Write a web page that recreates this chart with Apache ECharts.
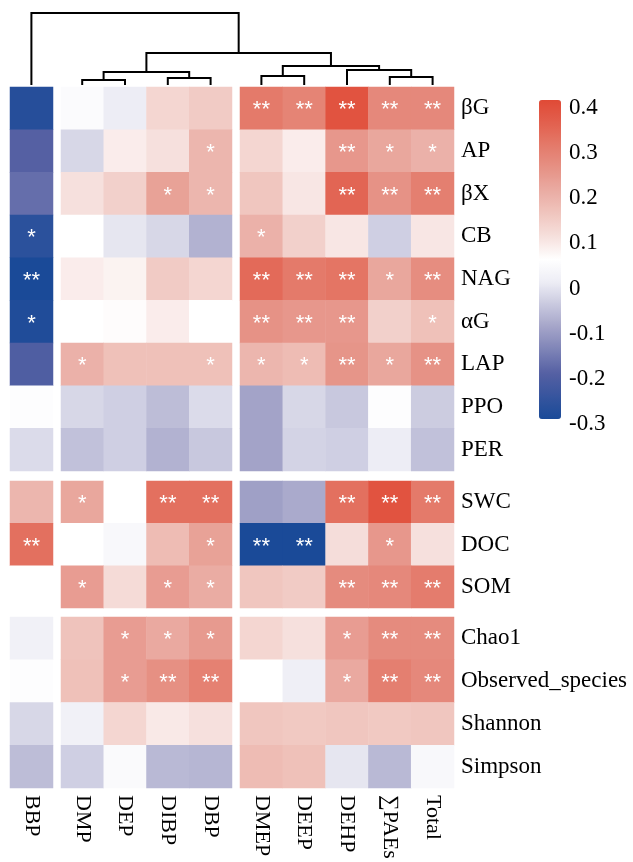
<!DOCTYPE html>
<html><head><meta charset="utf-8">
<script src="https://cdn.jsdelivr.net/npm/echarts@6/dist/echarts.min.js"></script>
<style>html,body{margin:0;padding:0;background:#fff}#c{width:633px;height:862px}</style>
</head><body><div id="c"></div>
<script>
// ---- data ----
const columns = ['BBP','DMP','DEP','DIBP','DBP','DMEP','DEEP','DEHP','\u2211PAEs','Total'];
const rows = ['\u03b2G','AP','\u03b2X','CB','NAG','\u03b1G','LAP','PPO','PER','SWC','DOC','SOM','Chao1','Observed_species','Shannon','Simpson'];
const colGroupSizes = [1, 4, 5];
const rowGroupSizes = [9, 3, 4];

// correlation coefficients, one row per variable (columns order as above)
const corr = [
  [-0.28, 0.04, 0.00, 0.12, 0.14, 0.30, 0.28, 0.38, 0.27, 0.27],   // βG
  [-0.20,-0.03, 0.08, 0.10, 0.18, 0.12, 0.08, 0.24, 0.21, 0.19],   // AP
  [-0.18, 0.10, 0.13, 0.22, 0.18, 0.15, 0.09, 0.34, 0.25, 0.29],   // βX
  [-0.27, 0.05,-0.01,-0.03,-0.08, 0.19, 0.13, 0.09,-0.04, 0.09],   // CB
  [-0.30, 0.08, 0.07, 0.14, 0.12, 0.33, 0.30, 0.31, 0.21, 0.26],   // NAG
  [-0.29, 0.05, 0.055,0.08, 0.05, 0.25, 0.24, 0.24, 0.13, 0.16],   // αG
  [-0.21, 0.19, 0.16, 0.16, 0.16, 0.18, 0.17, 0.245,0.21, 0.25],   // LAP
  [ 0.045,-0.03,-0.04,-0.065,-0.025,-0.10,-0.03,-0.05, 0.045,-0.045], // PPO
  [-0.025,-0.06,-0.04,-0.08,-0.05,-0.10,-0.035,-0.04, 0.00,-0.06], // PER
  [ 0.18, 0.21, 0.05, 0.32, 0.32,-0.105,-0.09, 0.32, 0.38, 0.30],  // SWC
  [ 0.32, 0.05, 0.03, 0.17, 0.22,-0.30,-0.30, 0.105,0.24, 0.10],   // DOC
  [ 0.05, 0.23, 0.11, 0.23, 0.20, 0.15, 0.14, 0.265,0.27, 0.295],  // SOM
  [ 0.01, 0.155,0.23, 0.205,0.235,0.12, 0.10, 0.23, 0.265,0.265],  // Chao1
  [ 0.045,0.16, 0.23, 0.255,0.285,0.05, 0.005,0.205,0.29, 0.27],   // Observed_species
  [-0.03, 0.01, 0.12, 0.085,0.10, 0.15, 0.145,0.15, 0.145,0.15],   // Shannon
  [-0.065,-0.04,0.035,-0.07,-0.075,0.17, 0.16,-0.01,-0.07, 0.03]   // Simpson
];
const sig = [
  ['',  '',  '',  '',  '',  '**','**','**','**','**'],
  ['',  '',  '',  '',  '*', '',  '',  '**','*', '*' ],
  ['',  '',  '',  '*', '*', '',  '',  '**','**','**'],
  ['*', '',  '',  '',  '',  '*', '',  '',  '',  ''  ],
  ['**','',  '',  '',  '',  '**','**','**','*', '**'],
  ['*', '',  '',  '',  '',  '**','**','**','',  '*' ],
  ['',  '*', '',  '',  '*', '*', '*', '**','*', '**'],
  ['',  '',  '',  '',  '',  '',  '',  '',  '',  ''  ],
  ['',  '',  '',  '',  '',  '',  '',  '',  '',  ''  ],
  ['',  '*', '',  '**','**','',  '',  '**','**','**'],
  ['**','',  '',  '',  '*', '**','**','',  '*', ''  ],
  ['',  '*', '',  '*', '*', '',  '',  '**','**','**'],
  ['',  '',  '*', '*', '*', '',  '',  '*', '**','**'],
  ['',  '',  '*', '**','**','',  '',  '*', '**','**'],
  ['',  '',  '',  '',  '',  '',  '',  '',  '',  ''  ],
  ['',  '',  '',  '',  '',  '',  '',  '',  '',  ''  ]
];
const legendTicks = [0.4, 0.3, 0.2, 0.1, 0, -0.1, -0.2, -0.3];

// column dendrogram: [left child, right child, merge height]; child = leaf name or merge index
const dendroMerges = [
  ['DMP', 'DEP', 5],
  ['DIBP', 'DBP', 7],
  [0, 1, 13],
  ['DMEP', 'DEEP', 9],
  ['\u2211PAEs', 'Total', 8],
  ['DEHP', 4, 15],
  [3, 5, 19],
  [2, 6, 32],
  ['BBP', 7, 72]
];

// ---- layout ----
const SERIF = 'Liberation Serif';
const colGrid = [{left: 10, width: 43}, {left: 61, width: 171}, {left: 240, width: 214}];
const rowGrid = [{top: 87, height: 384}, {top: 481, height: 127}, {top: 617, height: 171}];
const cellW = 42.8, colGap = 8;
const colorStops = ['#1A4A98','#37559E','#5560A3','#7C82B6','#A3A3C8','#C8C8DE','#EDEDF5','#FFFFFF',
                    '#F6E0DD','#F0C6BF','#EAACA3','#E69286','#E47A6A','#E2604E','#E04A36'];

const grid = [], xAxis = [], yAxis = [], series = [];
let rowStart = 0;
rowGroupSizes.forEach((rs, gi) => {
  let colStart = 0;
  colGroupSizes.forEach((cs, gj) => {
    const k = grid.length;
    grid.push({left: colGrid[gj].left, width: colGrid[gj].width, top: rowGrid[gi].top, height: rowGrid[gi].height, containLabel: false});
    xAxis.push({
      type: 'category', gridIndex: k, data: columns.slice(colStart, colStart + cs), position: 'bottom',
      axisLine: {show: false}, axisTick: {show: false}, splitLine: {show: false},
      axisLabel: {show: gi === rowGroupSizes.length - 1, rotate: -90, margin: 7, interval: 0,
                  fontFamily: SERIF, fontSize: 22, color: '#000'}
    });
    yAxis.push({
      type: 'category', gridIndex: k, data: rows.slice(rowStart, rowStart + rs), inverse: true, position: 'right',
      axisLine: {show: false}, axisTick: {show: false}, splitLine: {show: false},
      axisLabel: {show: gj === colGroupSizes.length - 1, margin: 7, interval: 0,
                  fontFamily: SERIF, fontSize: 23, color: '#000'}
    });
    const data = [];
    for (let r = 0; r < rs; r++) {
      for (let c = 0; c < cs; c++) {
        data.push([c, r, corr[rowStart + r][colStart + c], sig[rowStart + r][colStart + c]]);
      }
    }
    series.push({
      type: 'heatmap', xAxisIndex: k, yAxisIndex: k, data: data,
      itemStyle: {borderWidth: 0},
      label: {show: true, formatter: p => p.data[3], color: '#fff', fontFamily: 'Liberation Sans',
              fontSize: 22, offset: [0, 2]},
      emphasis: {disabled: true}
    });
    colStart += cs;
  });
  rowStart += rs;
});
const nHeat = series.length;

// legend label axis (grid)
const legIdx = grid.length;
grid.push({left: 539, width: 22, top: 108, height: 316});
xAxis.push({type: 'value', gridIndex: legIdx, show: false, min: 0, max: 1});
yAxis.push({
  type: 'value', gridIndex: legIdx, min: legendTicks[legendTicks.length - 1], max: legendTicks[0], interval: 0.1,
  position: 'right', axisLine: {show: false}, axisTick: {show: false}, splitLine: {show: false},
  axisLabel: {margin: 8, fontFamily: SERIF, fontSize: 23, color: '#000',
              formatter: v => String(Math.round(v * 10) / 10)}
});

// dendrogram grid
const denIdx = grid.length;
const gapUnits = colGap / cellW;
grid.push({left: 10, width: 444, top: 13, height: 72});
xAxis.push({type: 'value', gridIndex: denIdx, show: false, min: 0, max: columns.length + (colGroupSizes.length - 1) * gapUnits});
yAxis.push({type: 'value', gridIndex: denIdx, show: false, min: 0, max: 72});

function leafX(name) {
  const i = columns.indexOf(name);
  let g = 0, acc = 0;
  for (let j = 0; j < colGroupSizes.length; j++) { acc += colGroupSizes[j]; if (i < acc) { g = j; break; } }
  return i + 0.5 + g * gapUnits;
}
const nodePos = [];
const dendroData = dendroMerges.map(([a, b, h]) => {
  const pa = typeof a === 'number' ? nodePos[a] : {x: leafX(a), h: 0};
  const pb = typeof b === 'number' ? nodePos[b] : {x: leafX(b), h: 0};
  nodePos.push({x: (pa.x + pb.x) / 2, h: h});
  return [pa.x, pa.h, pb.x, pb.h, h];
});
series.push({
  type: 'custom', xAxisIndex: denIdx, yAxisIndex: denIdx, data: dendroData, silent: true, clip: false,
  renderItem: (params, api) => {
    const p1 = api.coord([api.value(0), api.value(1)]);
    const p2 = api.coord([api.value(0), api.value(4)]);
    const p3 = api.coord([api.value(2), api.value(4)]);
    const p4 = api.coord([api.value(2), api.value(3)]);
    return {type: 'polyline', shape: {points: [p1, p2, p3, p4]},
            style: {stroke: '#000', lineWidth: 2, fill: null}};
  }
});

const chart = echarts.init(document.getElementById('c'), null, {renderer: 'canvas'});
chart.setOption({
  animation: false,
  backgroundColor: '#fff',
  grid, xAxis, yAxis, series,
  visualMap: {
    type: 'continuous', min: -0.3, max: 0.4, dimension: 2,
    seriesIndex: Array.from({length: nHeat}, (_, i) => i),
    inRange: {color: colorStops},
    left: 534, top: 95, itemWidth: 22, itemHeight: 319, padding: 5,
    calculable: false, hoverLink: false, text: null, showLabel: false
  }
});
</script>
</body></html>
